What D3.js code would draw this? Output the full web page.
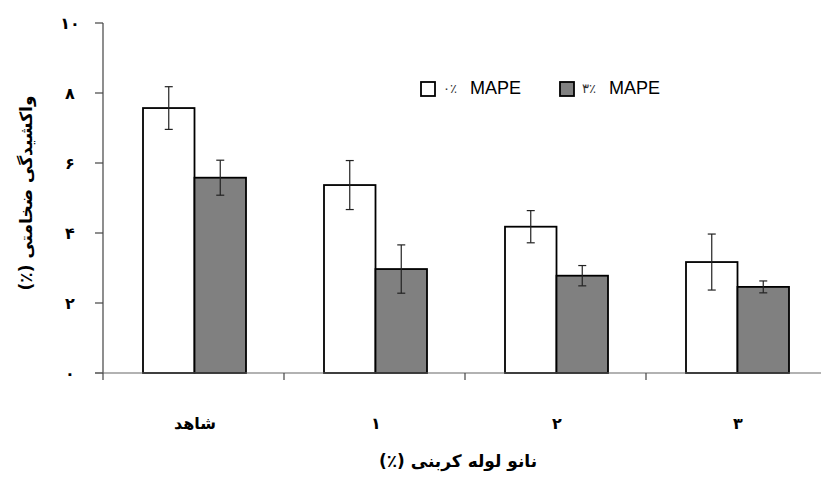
<!DOCTYPE html>
<html>
<head>
<meta charset="utf-8">
<script src="https://cdn.jsdelivr.net/npm/d3@7"></script>
<style>
  body { margin: 0; background: #fff; }
  svg { display: block; }
</style>
</head>
<body>
<svg id="chart" width="821" height="478"></svg>
<script>
  const categories = ['شاهد', '۱', '۲', '۳'];
  const seriesNames = ['۰٪', '۳٪'];
  const mape0 = [7.57, 5.37, 4.18, 3.17];
  const mape0Err = [0.61, 0.70, 0.46, 0.80];
  const mape3 = [5.58, 2.97, 2.78, 2.46];
  const mape3Err = [0.50, 0.69, 0.29, 0.17];
  const yTicks = [0, 2, 4, 6, 8, 10];
  const yTickLabels = ['۰', '۲', '۴', '۶', '۸', '۱۰'];
  const yTitle = 'واکشیدگی ضخامتی (٪)';
  const xTitle = 'نانو لوله کربنی (٪)';

  const fills = ['#ffffff', '#808080'];
  const persianFont = '"DejaVu Sans", sans-serif';

  let svg = d3.select('#chart');

  let x = d3.scaleBand()
    .domain(categories)
    .range([103, 827]);

  let inner = d3.scaleBand()
    .domain([0, 1])
    .range([0, 103]);

  let y = d3.scaleLinear()
    .domain([0, 10])
    .range([373, 23]);

  // Y axis: line, outward ticks, Persian labels
  svg.append('line')
    .attr('x1', 103).attr('x2', 103)
    .attr('y1', y(10)).attr('y2', y(0))
    .attr('stroke', '#444').attr('stroke-width', 1.2);

  svg.selectAll('.ytick')
    .data(yTicks)
    .enter()
    .append('line')
    .attr('class', 'ytick')
    .attr('x1', 95).attr('x2', 103)
    .attr('y1', d => y(d)).attr('y2', d => y(d))
    .attr('stroke', '#444').attr('stroke-width', 1.2);

  svg.selectAll('.ylabel')
    .data(yTicks)
    .enter()
    .append('text')
    .attr('class', 'ylabel')
    .attr('x', 70)
    .attr('y', d => y(d))
    .attr('dy', '0.35em')
    .attr('text-anchor', 'middle')
    .style('font-family', persianFont)
    .style('font-weight', 'bold')
    .style('font-size', '16px')
    .text((d, i) => yTickLabels[i]);

  svg.append('text')
    .attr('transform', 'translate(26,193) rotate(-90)')
    .attr('text-anchor', 'middle')
    .attr('direction', 'rtl')
    .attr('dy', '0.35em')
    .style('font-family', persianFont)
    .style('font-weight', 'bold')
    .style('font-size', '17px')
    .text(yTitle);

  // Bars
  let data = categories.map((c, i) => [
    { cat: c, s: 0, v: mape0[i], e: mape0Err[i] },
    { cat: c, s: 1, v: mape3[i], e: mape3Err[i] }
  ]).flat();

  let barX = d => x(d.cat) + 40 + inner(d.s);

  svg.selectAll('.bar')
    .data(data)
    .enter()
    .append('rect')
    .attr('class', 'bar')
    .attr('x', barX)
    .attr('y', d => y(d.v))
    .attr('width', inner.bandwidth())
    .attr('height', d => y(0) - y(d.v))
    .attr('fill', d => fills[d.s])
    .attr('stroke', '#000')
    .attr('stroke-width', 1.8);

  // X axis (drawn over bar bottoms)
  svg.append('line')
    .attr('x1', 95).attr('x2', 821)
    .attr('y1', y(0)).attr('y2', y(0))
    .attr('stroke', '#666').attr('stroke-width', 1.2);

  svg.selectAll('.xtick')
    .data(categories)
    .enter()
    .append('line')
    .attr('class', 'xtick')
    .attr('x1', d => x(d)).attr('x2', d => x(d))
    .attr('y1', y(0)).attr('y2', y(0) + 7)
    .attr('stroke', '#444').attr('stroke-width', 1.2);

  // Error bars
  let ex = d => barX(d) + inner.bandwidth() / 2;
  let errs = svg.selectAll('.err')
    .data(data)
    .enter()
    .append('g')
    .attr('class', 'err')
    .attr('stroke', '#222')
    .attr('stroke-width', 1.2);

  errs.append('line')
    .attr('x1', ex).attr('x2', ex)
    .attr('y1', d => y(d.v + d.e)).attr('y2', d => y(d.v - d.e));
  errs.append('line')
    .attr('x1', d => ex(d) - 4).attr('x2', d => ex(d) + 4)
    .attr('y1', d => y(d.v + d.e)).attr('y2', d => y(d.v + d.e));
  errs.append('line')
    .attr('x1', d => ex(d) - 4).attr('x2', d => ex(d) + 4)
    .attr('y1', d => y(d.v - d.e)).attr('y2', d => y(d.v - d.e));

  // Category labels
  svg.selectAll('.xlabel')
    .data(categories)
    .enter()
    .append('text')
    .attr('class', 'xlabel')
    .attr('x', d => x(d) + 92)
    .attr('y', 423)
    .attr('dy', '0.35em')
    .attr('text-anchor', 'middle')
    .attr('direction', 'rtl')
    .style('font-family', persianFont)
    .style('font-weight', 'bold')
    .style('font-size', '16px')
    .text(d => d);

  svg.append('text')
    .attr('x', 458)
    .attr('y', 461)
    .attr('dy', '0.35em')
    .attr('text-anchor', 'middle')
    .attr('direction', 'rtl')
    .style('font-family', persianFont)
    .style('font-weight', 'bold')
    .style('font-size', '17px')
    .text(xTitle);

  // Legend
  let legendX = [421, 560];
  let legend = svg.selectAll('.legend')
    .data(seriesNames)
    .enter()
    .append('g')
    .attr('class', 'legend')
    .attr('transform', (d, i) => 'translate(' + legendX[i] + ',82)');

  legend.append('rect')
    .attr('width', 14).attr('height', 14)
    .attr('fill', (d, i) => fills[i])
    .attr('stroke', '#000')
    .attr('stroke-width', 1.8);

  legend.append('text')
    .attr('x', 22)
    .attr('y', 6)
    .attr('dy', '0.35em')
    .style('font-family', persianFont)
    .style('font-size', '13px')
    .style('fill', '#333')
    .text(d => d);

  legend.append('text')
    .attr('x', 49)
    .attr('y', 6)
    .attr('dy', '0.35em')
    .style('font-family', '"Liberation Sans", Arial, sans-serif')
    .style('font-size', '18px')
    .text('MAPE');
</script>
</body>
</html>
